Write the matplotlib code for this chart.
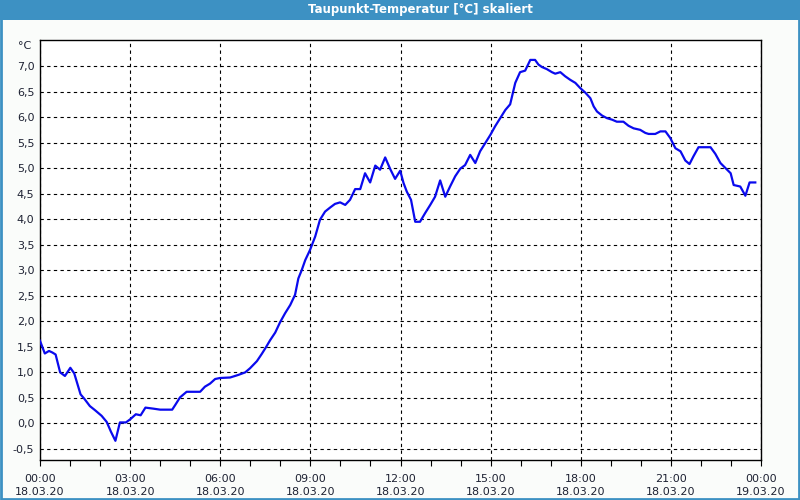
"""Taupunkt-Temperatur chart, 18.03.20."""

import matplotlib

matplotlib.use("Agg")
import matplotlib.pyplot as plt
from matplotlib.patches import Rectangle
from matplotlib.ticker import FixedLocator

# hours since 18.03.20 00:00 and dew point values in °C
hours = [
    0.0, 0.16, 0.30, 0.41, 0.52, 0.67, 0.83, 1.01, 1.14, 1.35, 1.48, 1.66, 1.83,
    2.05, 2.22, 2.36, 2.51, 2.66, 2.86, 3.0, 3.19, 3.35, 3.51, 3.77, 4.0, 4.4,
    4.5, 4.66, 4.88, 5.33, 5.49, 5.66, 5.83, 5.99, 6.33, 6.6, 6.83, 6.99, 7.22,
    7.38, 7.53, 7.66, 7.83, 7.99, 8.16, 8.33, 8.49, 8.6, 8.71, 8.83, 8.99, 9.16,
    9.32, 9.49, 9.66, 9.82, 9.99, 10.16, 10.32, 10.49, 10.66, 10.82, 10.99,
    11.16, 11.32, 11.49, 11.66, 11.82, 11.99, 12.1, 12.21, 12.35, 12.49, 12.65,
    12.82, 12.99, 13.15, 13.32, 13.49, 13.65, 13.82, 13.99, 14.15, 14.32, 14.49,
    14.65, 14.82, 14.99, 15.15, 15.32, 15.49, 15.65, 15.82, 15.98, 16.15, 16.32,
    16.48, 16.59, 16.71, 16.87, 17.04, 17.15, 17.32, 17.48, 17.65, 17.82, 17.98,
    18.15, 18.32, 18.43, 18.54, 18.71, 18.87, 19.04, 19.2, 19.42, 19.59, 19.76,
    19.98, 20.15, 20.26, 20.48, 20.65, 20.82, 20.98, 21.15, 21.32, 21.48, 21.62,
    21.75, 21.92, 22.09, 22.32, 22.48, 22.65, 22.82, 22.99, 23.09, 23.31, 23.48,
    23.62, 23.81,
]
dewpoint = [
    1.62, 1.37, 1.42, 1.39, 1.35, 1.0, 0.93, 1.09, 0.98, 0.57, 0.48, 0.34, 0.26,
    0.15, 0.03, -0.16, -0.34, 0.02, 0.02, 0.08, 0.18, 0.16, 0.31, 0.29, 0.27, 0.27,
    0.36, 0.51, 0.62, 0.62, 0.72, 0.78, 0.87, 0.89, 0.90, 0.95, 1.0, 1.08, 1.22,
    1.36, 1.50, 1.63, 1.78, 1.98, 2.16, 2.32, 2.52, 2.84, 3.0, 3.2, 3.4, 3.66,
    3.99, 4.15, 4.23, 4.30, 4.33, 4.28, 4.38, 4.59, 4.59, 4.90, 4.72,
    5.05, 4.97, 5.21, 4.98, 4.79, 4.95, 4.71, 4.54, 4.38, 3.95, 3.95,
    4.12, 4.28, 4.44, 4.76, 4.44, 4.64, 4.84, 4.99, 5.06, 5.26, 5.10,
    5.33, 5.49, 5.65, 5.82, 5.98, 6.14, 6.25, 6.67, 6.88, 6.91, 7.12,
    7.12, 7.03, 6.98, 6.94, 6.88, 6.85, 6.88, 6.80, 6.73, 6.67, 6.57,
    6.48, 6.37, 6.21, 6.11, 6.03, 5.98, 5.95, 5.91, 5.91, 5.83, 5.78,
    5.75, 5.69, 5.67, 5.67, 5.72, 5.72, 5.59, 5.39, 5.33, 5.15, 5.08,
    5.23, 5.41, 5.41, 5.41, 5.28, 5.10, 5.0, 4.90, 4.67, 4.64, 4.46,
    4.72, 4.72,
]

x_ticks = [0, 3, 6, 9, 12, 15, 18, 21, 24]
x_labels = [
    "00:00\n18.03.20", "03:00\n18.03.20", "06:00\n18.03.20", "09:00\n18.03.20",
    "12:00\n18.03.20", "15:00\n18.03.20", "18:00\n18.03.20", "21:00\n18.03.20",
    "00:00\n19.03.20",
]
y_ticks = [-0.5, 0.0, 0.5, 1.0, 1.5, 2.0, 2.5, 3.0, 3.5, 4.0, 4.5, 5.0, 5.5, 6.0, 6.5, 7.0]

title = "Taupunkt-Temperatur [°C] skaliert"
unit = "°C"

BAR_BLUE = "#3d91c3"
TEXT_COLOR = "#1e2233"

fig = plt.figure(figsize=(8, 5), dpi=100, facecolor="#fafcfa")

# title bar + outer frame
fig.patches.append(Rectangle((0, 0.96), 1, 0.04, transform=fig.transFigure,
                             facecolor=BAR_BLUE, edgecolor="none", zorder=0))
fig.patches.append(Rectangle((0.001, 0.002), 0.998, 0.996, transform=fig.transFigure,
                             facecolor="none", edgecolor=BAR_BLUE, linewidth=2, zorder=0))
fig.text(420 / 800, 490 / 500, title, color="white", fontsize=8.5, weight="bold",
         ha="center", va="center")

ax = fig.add_axes([40 / 800, 40 / 500, 721 / 800, 420 / 500])
ax.set_facecolor("white")
ax.plot(hours, dewpoint, color="#0a0aee", linewidth=1.6, zorder=3)

ax.set_xlim(0, 24)
ax.set_ylim(-0.716, 7.51)

ax.set_xticks(x_ticks)
ax.set_xticklabels(x_labels, fontsize=8, color=TEXT_COLOR, linespacing=1.45)
ax.xaxis.set_minor_locator(FixedLocator(range(25)))
ax.tick_params(axis="x", which="both", length=4, width=0.8, color="black", pad=6)

ax.set_yticks(y_ticks)
ax.set_yticklabels([f"{v:.1f}".replace(".", ",") for v in y_ticks], fontsize=8, color=TEXT_COLOR)
ax.tick_params(axis="y", length=0, pad=4)

ax.grid(True, which="major", color="black", linestyle=(0, (3, 3)), linewidth=0.8)
for spine in ax.spines.values():
    spine.set_linewidth(1.0)
    spine.set_color("black")

fig.text(25 / 800, 454 / 500, unit, fontsize=8, color=TEXT_COLOR, ha="center", va="center")

fig.savefig("out.png", dpi=100, facecolor=fig.get_facecolor())
